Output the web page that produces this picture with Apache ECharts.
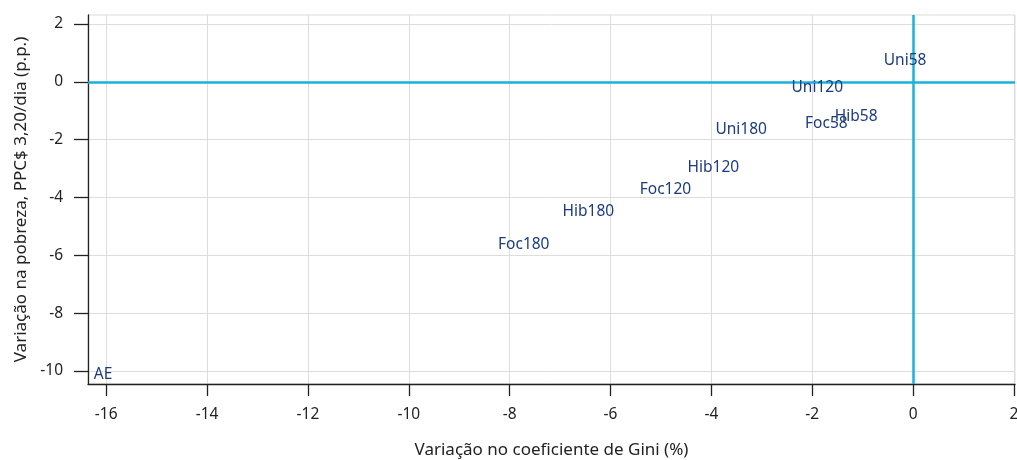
<!DOCTYPE html>
<html><head><meta charset="utf-8">
<script src="https://cdn.jsdelivr.net/npm/echarts@6/dist/echarts.min.js"></script>
<style>html,body{margin:0;padding:0;background:#fff}#c{width:1017px;height:460px}</style>
</head><body><div id="c"></div>
<script>
const scenarios = ['Uni58','Uni120','Hib58','Foc58','Uni180','Hib120','Foc120','Hib180','Foc180','AE'];
const giniChange = [-0.16,-1.90,-1.13,-1.72,-3.41,-3.96,-4.91,-6.44,-7.72,-16.06];
const povertyChange = [0.73,-0.21,-1.21,-1.45,-1.66,-2.98,-3.74,-4.50,-5.64,-10.14];
const xTicks = [-16,-14,-12,-10,-8,-6,-4,-2,0,2];
const yTicks = [-10,-8,-6,-4,-2,0,2];
const font = 'Noto Sans';
const chart = echarts.init(document.getElementById('c'));
chart.setOption({
  animation:false,
  grid:{left:88,right:2,top:15,bottom:76,outerBoundsMode:'none',containLabel:false,show:true,borderColor:'#dddddd',borderWidth:1},
  xAxis:{type:'value',min:-16.36,max:2.02,
    name:'Variação no coeficiente de Gini (%)',nameLocation:'middle',nameGap:58,
    nameTextStyle:{fontFamily:font,fontSize:17,color:'#222'},
    axisLine:{show:true,onZero:false,lineStyle:{color:'#222',width:1.3}},
    axisTick:{show:true,length:12,customValues:xTicks,lineStyle:{color:'#222',width:1.3}},
    axisLabel:{customValues:xTicks,fontFamily:font,fontSize:15.5,color:'#222',margin:23},
    splitLine:{show:true,lineStyle:{color:'#dddddd',width:1}}},
  yAxis:{type:'value',min:-10.45,max:2.31,
    name:'Variação na pobreza, PPC$ 3,20/dia (p.p.)',nameLocation:'middle',nameGap:58,
    nameTextStyle:{fontFamily:font,fontSize:17,color:'#222'},
    axisLine:{show:true,onZero:false,lineStyle:{color:'#222',width:1.3}},
    axisTick:{show:true,length:14,customValues:yTicks,lineStyle:{color:'#222',width:1.3}},
    axisLabel:{customValues:yTicks,fontFamily:font,fontSize:15.5,color:'#222',margin:25},
    splitLine:{show:true,lineStyle:{color:'#dddddd',width:1}}},
  series:[{
    type:'scatter',symbolSize:1,itemStyle:{color:'rgba(0,0,0,0)',opacity:1},
    data:scenarios.map((n,i)=>({name:n,value:[giniChange[i],povertyChange[i]]})),
    label:{show:true,position:'inside',formatter:p=>p.name,fontFamily:font,fontSize:15.5,color:'#1c3a80',textBorderWidth:0},
    labelLayout:{hideOverlap:false},
    markLine:{silent:true,symbol:'none',label:{show:false},
      lineStyle:{color:'#1ab0d9',width:2.5,type:'solid'},
      data:[{xAxis:0},{yAxis:0}]},
    z:5
  }]
});
</script></body></html>
